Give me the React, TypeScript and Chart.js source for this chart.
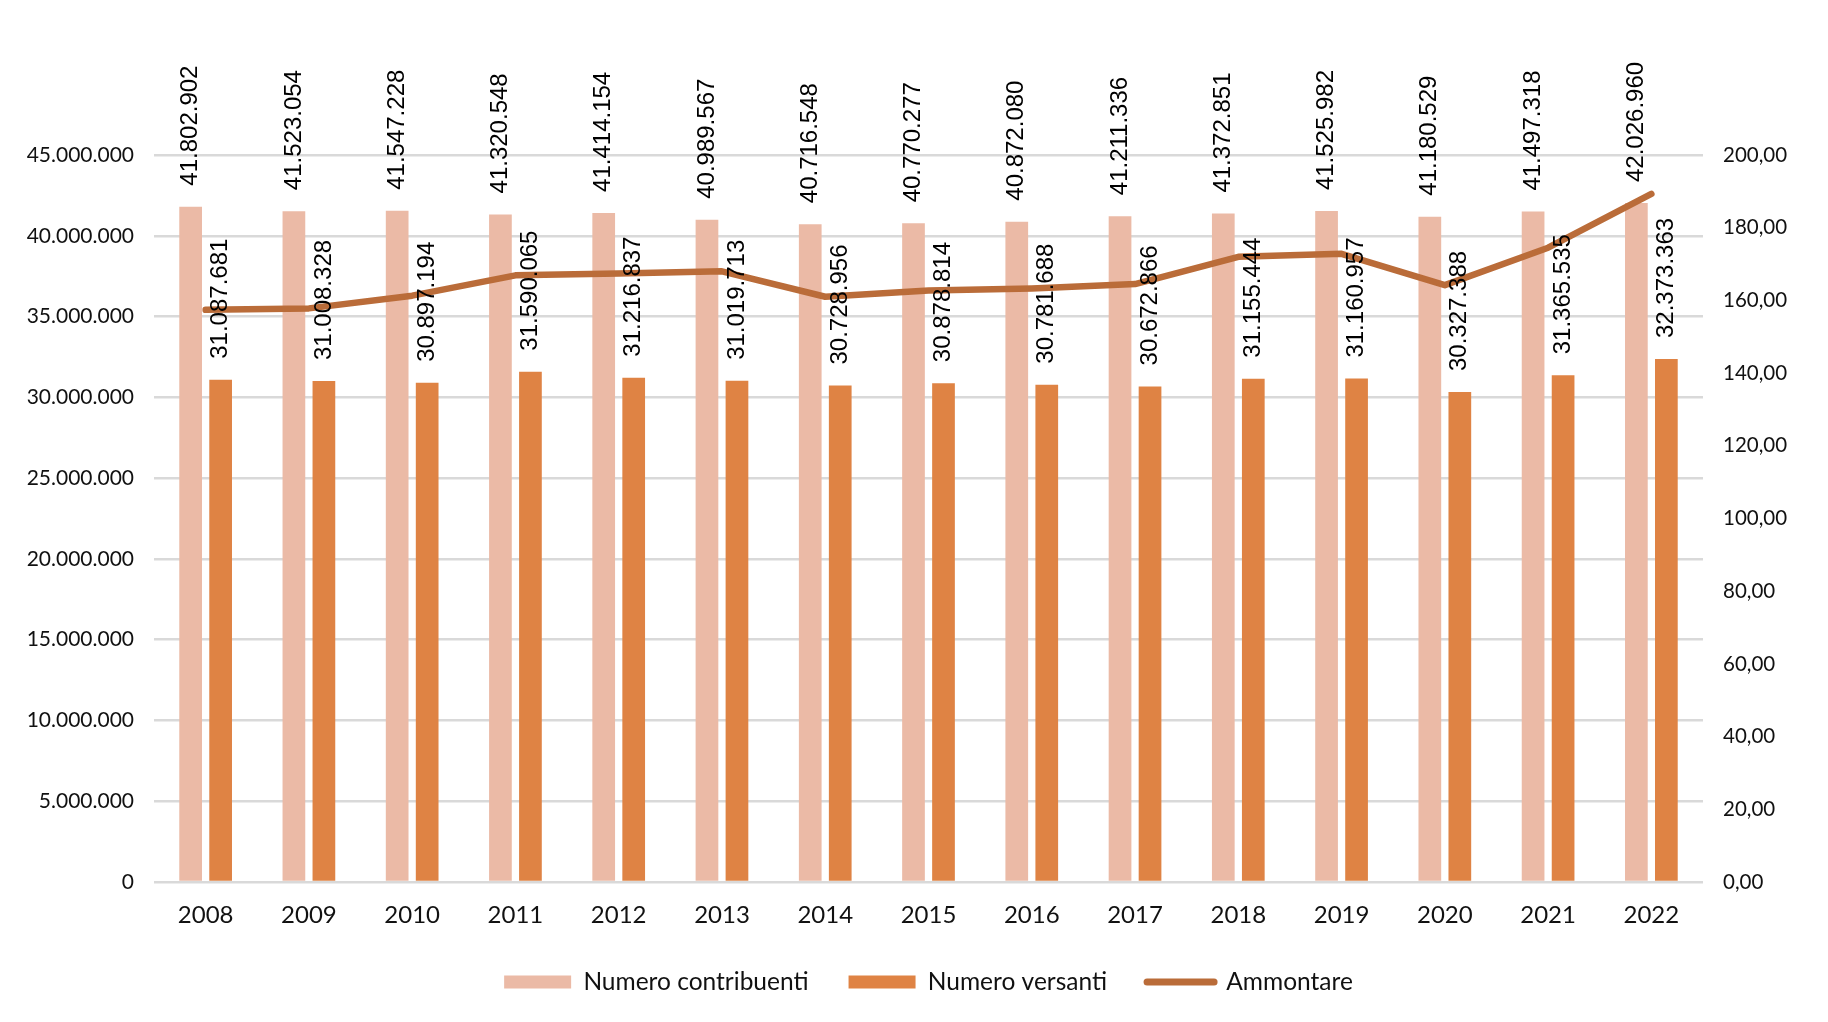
import React, { useEffect, useRef } from 'react';
import { Chart, registerables } from 'chart.js';

Chart.register(...registerables);

// ---- Data ----
const years = ['2008', '2009', '2010', '2011', '2012', '2013', '2014', '2015', '2016', '2017', '2018', '2019', '2020', '2021', '2022'];
const numeroContribuenti = [41802902, 41523054, 41547228, 41320548, 41414154, 40989567, 40716548, 40770277, 40872080, 41211336, 41372851, 41525982, 41180529, 41497318, 42026960];
const numeroVersanti = [31087681, 31008328, 30897194, 31590065, 31216837, 31019713, 30728956, 30878814, 30781688, 30672866, 31155444, 31160957, 30327388, 31365535, 32373363];
const ammontare = [157.4, 157.8, 161.3, 166.9, 167.4, 168.0, 161.0, 162.7, 163.3, 164.5, 172.0, 172.8, 164.2, 174.5, 189.3];

const seriesNames = ['Numero contribuenti', 'Numero versanti', 'Ammontare'];
const leftAxisMax = 45000000;
const leftAxisStep = 5000000;
const rightAxisMax = 200;
const rightAxisStep = 20;

// ---- Styles ----
const colorContribuenti = '#EBBAA6';
const colorVersanti = '#DF8344';
const colorAmmontare = '#BA6C39';
const gridColor = '#D9D9D9';
const textColor = '#111111';

const fmtThousands = (n: number) => String(Math.round(n)).replace(/\B(?=(\d{3})+(?!\d))/g, '.');
const fmtDecimal = (n: number) => n.toFixed(2).replace('.', ',');

const barLabelsPlugin = {
  id: 'barLabels',
  afterDatasetsDraw(chart: any) {
    const ctx = chart.ctx;
    ctx.save();
    ctx.font = '24px "Liberation Sans", Arial, sans-serif';
    ctx.fillStyle = '#000000';
    ctx.textAlign = 'left';
    ctx.textBaseline = 'middle';
    [0, 1].forEach((di) => {
      const meta = chart.getDatasetMeta(di);
      const data = chart.data.datasets[di].data as number[];
      meta.data.forEach((el: any, i: number) => {
        ctx.save();
        ctx.translate(el.x, el.y - 21);
        ctx.rotate(-Math.PI / 2);
        ctx.fillText(fmtThousands(data[i]), 0, 0);
        ctx.restore();
      });
    });
    ctx.restore();
  },
};

export default function App() {
  const canvasRef = useRef<HTMLCanvasElement | null>(null);

  useEffect(() => {
    if (!canvasRef.current) return;
    const chart = new Chart(canvasRef.current, {
      type: 'bar',
      data: {
        labels: years,
        datasets: [
          {
            type: 'bar',
            label: seriesNames[0],
            data: numeroContribuenti,
            backgroundColor: colorContribuenti,
            borderWidth: 0,
            yAxisID: 'y',
            order: 1,
            barPercentage: 0.757,
            categoryPercentage: 0.581,
          },
          {
            type: 'bar',
            label: seriesNames[1],
            data: numeroVersanti,
            backgroundColor: colorVersanti,
            borderWidth: 0,
            yAxisID: 'y',
            order: 1,
            barPercentage: 0.757,
            categoryPercentage: 0.581,
          },
          {
            type: 'line',
            label: seriesNames[2],
            data: ammontare,
            borderColor: colorAmmontare,
            backgroundColor: colorAmmontare,
            borderWidth: 6.5,
            borderCapStyle: 'round',
            borderJoinStyle: 'round',
            pointRadius: 0,
            tension: 0,
            yAxisID: 'y1',
            order: 0,
          } as any,
        ],
      },
      options: {
        responsive: false,
        animation: false,
        layout: { padding: { top: 155, left: 0, right: 0, bottom: 17.75 } },
        plugins: {
          tooltip: { enabled: false },
          legend: {
            position: 'bottom',
            fullSize: false,
            labels: {
              usePointStyle: true,
              pointStyleWidth: 67,
              boxHeight: 13,
              padding: 40,
              color: textColor,
              font: { family: 'Lato', size: 24.5 },
              sort: (a: any, b: any) => a.datasetIndex - b.datasetIndex,
              generateLabels: (c: any) => {
                const items = (Chart.defaults.plugins.legend.labels as any).generateLabels(c);
                return items.map((it: any) => {
                  if (it.datasetIndex === 2) {
                    it.pointStyle = 'line';
                    it.lineWidth = 7;
                    it.strokeStyle = colorAmmontare;
                    it.lineCap = 'round';
                  } else {
                    it.pointStyle = 'rect';
                    it.lineWidth = 0;
                  }
                  return it;
                });
              },
            },
          },
        },
        scales: {
          x: {
            grid: { display: false, drawTicks: false },
            border: { display: false },
            ticks: { color: textColor, font: { family: 'Lato', size: 24 }, padding: 19 },
            afterFit: (s: any) => { s.height = 47.75; },
          },
          y: {
            position: 'left',
            min: 0,
            max: leftAxisMax,
            grid: { color: gridColor, lineWidth: 2.5, drawTicks: false },
            border: { display: false },
            ticks: {
              stepSize: leftAxisStep,
              color: textColor,
              font: { family: 'Lato', size: 21 },
              padding: 20,
              callback: (v: any) => fmtThousands(Number(v)),
            },
            afterFit: (s: any) => { s.width = 154; },
          },
          y1: {
            position: 'right',
            min: 0,
            max: rightAxisMax,
            grid: { display: false, drawTicks: false },
            border: { display: false },
            ticks: {
              stepSize: rightAxisStep,
              color: textColor,
              font: { family: 'Lato', size: 20.5 },
              padding: 20,
              callback: (v: any) => fmtDecimal(Number(v)),
            },
            afterFit: (s: any) => { s.width = 125; },
          },
        },
      } as any,
      plugins: [barLabelsPlugin],
    });
    return () => chart.destroy();
  }, []);

  return (
    <div style={{ position: 'fixed', left: 0, top: 0, width: 1828, height: 1022, background: '#ffffff' }}>
      <canvas ref={canvasRef} width={1828} height={1022} style={{ display: 'block' }} />
    </div>
  );
}
